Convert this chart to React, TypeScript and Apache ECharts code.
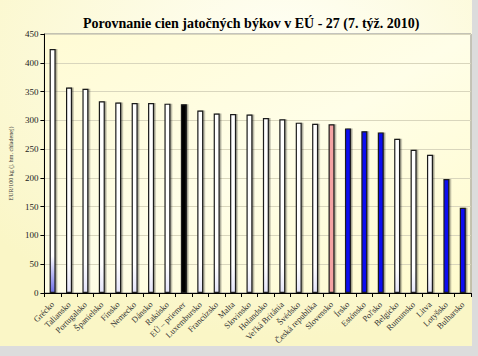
import React, { useEffect, useRef } from "react";
import * as echarts from "echarts";

const categories = [
  "Grécko", "Taliansko", "Portugalsko", "Španielsko", "Fínsko", "Nemecko", "Dánsko", "Rakúsko",
  "EÚ – priemer", "Luxembursko", "Francúzsko", "Malta", "Slovinsko", "Holandsko", "Veľká Británia",
  "Švédsko", "Česká republika", "Slovensko", "Írsko", "Estónsko", "Poľsko", "Belgicko", "Rumunsko",
  "Litva", "Lotyšsko", "Bulharsko",
];
const values = [
  424, 357, 355, 333, 331, 330, 330, 329, 328, 317, 312, 311, 310, 304, 302, 296, 294, 293, 286,
  281, 279, 268, 249, 240, 198, 148,
];
// bar kind: w = white, b = blue, k = black (EU), p = pink (Slovakia), g = Greece
const kinds = [
  "g", "w", "w", "w", "w", "w", "w", "w", "k", "w", "w", "w", "w", "w", "w", "w", "w", "p", "b",
  "b", "b", "w", "w", "w", "b", "b",
];

const title = "Porovnanie cien jatočných býkov v EÚ - 27 (7. týž. 2010)";
const yName = "EUR/100 kg (j. hm. chladenej)";

function colorFor(k: string) {
  if (k === "b") return "#0a0af0";
  if (k === "k") return "#000000";
  if (k === "p") return "#f4a3a3";
  const bottom = k === "g" ? "#6e6ee6" : "#e4e4fa";
  return new echarts.graphic.LinearGradient(0, 0, 0, 1, [
    { offset: 0, color: "#ffffff" },
    { offset: 0.85, color: "#ffffff" },
    { offset: 1, color: bottom },
  ]);
}

export default function App() {
  const ref = useRef<HTMLDivElement>(null);
  useEffect(() => {
    document.body.style.margin = "0";
    const chart = echarts.init(ref.current!, null, { renderer: "svg" });
    chart.setOption({
      animation: false,
      backgroundColor: new echarts.graphic.RadialGradient(0.6, 0.15, 0.8, [
        { offset: 0, color: "#fffff6" },
        { offset: 1, color: "#faf6c6" },
      ]),
      graphic: [
        { type: "rect", left: 472, top: 0, shape: { width: 6, height: 356 }, style: { fill: "#dcdcdc" }, silent: true },
        { type: "rect", left: 0, top: 346, shape: { width: 478, height: 10 }, style: { fill: "#dcdcdc" }, silent: true },
      ],
      title: {
        text: title,
        left: 78,
        top: 11,
        textStyle: { fontFamily: "Liberation Serif", fontWeight: "bold", fontSize: 14, color: "#000" },
      },
      grid: {
        left: 42,
        right: 7,
        top: 34,
        bottom: 63,
        show: true,
        borderColor: "#8a8a8a",
        borderWidth: 1,
        backgroundColor: new echarts.graphic.LinearGradient(0, 0, 1, 1, [
          { offset: 0, color: "#fffbd4" },
          { offset: 0.5, color: "#fffee8" },
          { offset: 1, color: "#fffbcc" },
        ]),
      },
      xAxis: {
        type: "category",
        data: categories,
        axisLine: { lineStyle: { color: "#000", width: 1 } },
        axisTick: { show: true, alignWithLabel: false, length: 4, lineStyle: { color: "#000" } },
        axisLabel: {
          rotate: 45,
          interval: 0,
          fontFamily: "Liberation Serif",
          fontSize: 8.5,
          color: "#333",
          margin: 10,
        },
      },
      yAxis: {
        type: "value",
        min: 0,
        max: 450,
        interval: 50,
        name: yName,
        nameLocation: "middle",
        nameGap: 29,
        nameTextStyle: { fontFamily: "Liberation Serif", fontSize: 6, color: "#333" },
        axisLine: { show: true, lineStyle: { color: "#000", width: 1 } },
        axisTick: { show: true, length: 4, lineStyle: { color: "#000" } },
        axisLabel: { fontFamily: "Liberation Serif", fontSize: 9, color: "#222", margin: 6 },
        splitLine: { show: true, lineStyle: { color: "#d9d6bd", width: 1 } },
      },
      series: [
        {
          type: "bar",
          barWidth: 6,
          data: values.map((v, i) => ({
            value: v,
            itemStyle: {
              color: colorFor(kinds[i]),
              borderColor: "#1a1a1a",
              borderWidth: 1.2,
              shadowColor: "rgba(0,0,0,0.35)",
              shadowOffsetX: 1.5,
              shadowOffsetY: 0,
              shadowBlur: 0,
            },
          })),
        },
      ],
    });
    return () => chart.dispose();
  }, []);
  return <div ref={ref} style={{ width: 478, height: 356, position: "absolute", left: 0, top: 0 }} />;
}
